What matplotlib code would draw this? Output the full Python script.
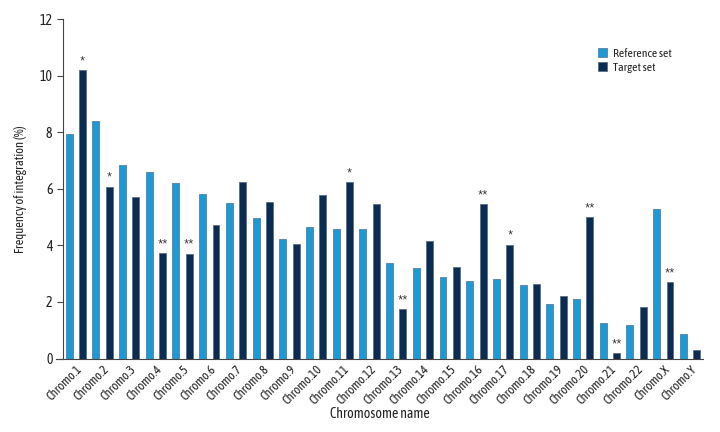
import numpy as np
import matplotlib
matplotlib.use('Agg')
import matplotlib.pyplot as plt

# Data
chromosomes = ['Chromo.1', 'Chromo.2', 'Chromo.3', 'Chromo.4', 'Chromo.5', 'Chromo.6',
               'Chromo.7', 'Chromo.8', 'Chromo.9', 'Chromo.10', 'Chromo.11', 'Chromo.12',
               'Chromo.13', 'Chromo.14', 'Chromo.15', 'Chromo.16', 'Chromo.17', 'Chromo.18',
               'Chromo.19', 'Chromo.20', 'Chromo.21', 'Chromo.22', 'Chromo.X', 'Chromo.Y']
reference_set = [7.93, 8.40, 6.84, 6.60, 6.21, 5.82, 5.50, 4.98, 4.22, 4.64, 4.59, 4.57,
                 3.37, 3.19, 2.88, 2.75, 2.80, 2.59, 1.92, 2.11, 1.24, 1.18, 5.28, 0.88]
target_set = [10.20, 6.08, 5.70, 3.72, 3.71, 4.73, 6.23, 5.55, 4.04, 5.78, 6.23, 5.46,
              1.75, 4.16, 3.23, 5.46, 4.03, 2.65, 2.20, 5.01, 0.20, 1.83, 2.70, 0.32]
significance = ['*', '*', '', '**', '**', '', '', '', '', '', '*', '',
                '**', '', '', '**', '*', '', '', '**', '**', '', '**', '']

plt.rcParams['font.family'] = ['Asap Condensed', 'DejaVu Sans']

ref_color = '#1b9ad7'
tgt_color = '#0a2b52'
text_color = '#222222'

fig = plt.figure(figsize=(7.2, 4.32), dpi=100)
ax = fig.add_axes([0.078, 0.170, 0.898, 0.786])

x = np.arange(len(chromosomes)) * 2
ax.bar(x, reference_set, width=0.52, color=ref_color, edgecolor='#5a7f9a',
       linewidth=0.6, label='Reference set')
ax.bar(x + 1, target_set, width=0.52, color=tgt_color, edgecolor='#5a6f85',
       linewidth=0.6, label='Target set')

# significance stars above target bars
for xi, v, s in zip(x + 1, target_set, significance):
    if s:
        ax.text(xi, v - 0.05, s, ha='center', va='bottom', fontsize=12.5,
                color='#333333')

ax.set_xlim(-0.97, 47.45)
ax.set_ylim(0, 12)
ax.set_yticks([0, 2, 4, 6, 8, 10, 12])
ax.set_xticks(x + 0.5)
ax.set_xticklabels(chromosomes, rotation=45, ha='right', rotation_mode='anchor',
                   fontsize=9, color=text_color)
ax.tick_params(axis='x', length=0, pad=3)
ax.tick_params(axis='y', length=4, labelsize=10, labelcolor=text_color,
               direction='out', width=0.8, color='#444444')

ax.spines['top'].set_visible(False)
ax.spines['right'].set_visible(False)
ax.spines['left'].set_position(('data', -0.47))
ax.spines['left'].set_color('#444444')
ax.spines['bottom'].set_color('#444444')

ax.set_xlabel('Chromosome name', fontsize=10, labelpad=0, color=text_color)
ax.set_ylabel('Frequency of integration (%)', fontsize=9, labelpad=9, color=text_color)

ax.legend(loc='upper left', bbox_to_anchor=(0.838, 0.915), frameon=False,
          borderpad=0, borderaxespad=0,
          fontsize=8.5, handlelength=0.75, handleheight=0.75, handletextpad=0.5,
          labelspacing=0.25, labelcolor=text_color)

plt.savefig('out.png', dpi=100)
